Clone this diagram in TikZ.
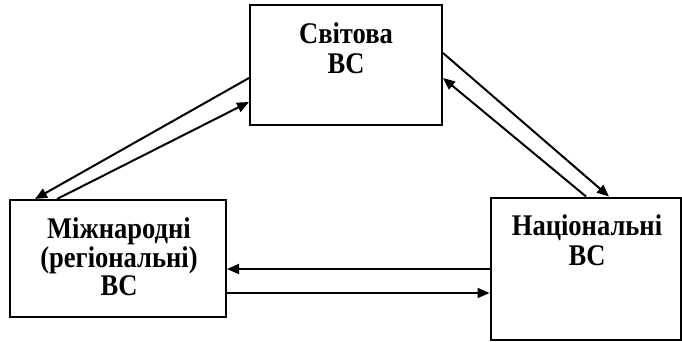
\documentclass[tikz,border=0pt]{standalone}
\usepackage{fontspec}
\setmainfont{Liberation Serif}
\usetikzlibrary{arrows.meta}
\begin{document}
\begin{tikzpicture}[x=1pt,y=1pt,
  box/.style={draw, line width=2pt, inner sep=0pt},
  lbl/.style={align=center, font=\fontsize{30}{30}\selectfont\bfseries, inner sep=0pt, xscale=0.885},
  arr/.style={line width=2pt, -{Triangle[length=12pt,width=10pt]}}]
\useasboundingbox (0,0) rectangle (682,341);
\node[box, minimum width=192pt, minimum height=120pt] (top) at (346,276) {};
\node[box, minimum width=216pt, minimum height=117pt] (left) at (118,82.5) {};
\node[box, minimum width=190pt, minimum height=142pt] (right) at (585.5,72.5) {};
\node[lbl] (ttop) at (346,293) {Світова\\ВС};
\node[lbl, font=\fontsize{30}{28.5}\selectfont\bfseries] (tleft) at (119,84) {Міжнародні\\(регіональні)\\ВС};
\node[lbl] (tright) at (587,101) {Національні\\ВС};
\draw[arr] ([yshift=-13pt]top.west) -- ([xshift=-83pt]left.north);
\draw[arr] ([xshift=-61pt]left.north) -- ([yshift=-37pt]top.west);
\draw[arr] ([yshift=12pt]top.east) -- ([xshift=23.5pt]right.north);
\draw[arr] ([xshift=0.5pt]right.north) -- ([yshift=-13pt]top.east);
\draw[arr] ([yshift=-0.5pt]right.west) -- ([yshift=-10.5pt]left.east);
\draw[arr] ([yshift=-34.5pt]left.east) -- ([yshift=-24.5pt]right.west);
\end{tikzpicture}
\end{document}
